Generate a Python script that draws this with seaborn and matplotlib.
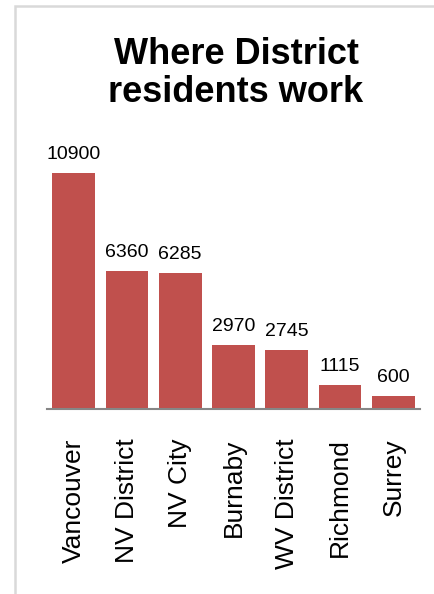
import matplotlib
matplotlib.use("Agg")
import matplotlib.pyplot as plt
import seaborn as sns
import pandas as pd
from matplotlib.patches import Rectangle

categories = ["Vancouver", "NV District", "NV City", "Burnaby", "WV District", "Richmond", "Surrey"]
values = [10900, 6360, 6285, 2970, 2745, 1115, 600]
title = "Where District\nresidents work"

sns.set_style("white")
plt.rcParams["font.family"] = ["Liberation Sans", "DejaVu Sans"]
plt.rcParams["text.color"] = "black"
plt.rcParams["xtick.color"] = "black"

df = pd.DataFrame({"place": categories, "workers": values})

fig = plt.figure(figsize=(4.35, 5.94), dpi=100)
ax = fig.add_axes([47/435, (594-409)/594, 373/435, 260/594])

sns.barplot(data=df, x="place", y="workers", color="#C0504D", saturation=1,
            width=0.8, ax=ax, order=categories)
ax.set_ylim(0, 12000)
ax.set_xlim(-0.5, len(categories) - 0.5)
for b in ax.patches:
    b.set_edgecolor("none")
ax.bar_label(ax.containers[0], labels=[str(v) for v in values], padding=7,
             fontsize=14, color="black")

for s in ["top", "right", "left"]:
    ax.spines[s].set_visible(False)
ax.spines["bottom"].set_color("#868686")
ax.spines["bottom"].set_linewidth(1.5)
ax.set_yticks([])
ax.set_xlabel("")
ax.set_ylabel("")
ax.tick_params(axis="x", length=0, pad=21, labelsize=19, labelrotation=90,
               labelcolor="black")

fig.text(236/435, 1 - 37/594, title, ha="center", va="top", fontsize=26,
         fontweight="bold", linespacing=1.12, color="black")

fig.patches.append(Rectangle((15/435, -0.1), 1.2, (594 - 6)/594 + 0.1,
                             transform=fig.transFigure, fill=False,
                             edgecolor="#D9D9D9", linewidth=1.8))

fig.savefig("out.png", dpi=100)
